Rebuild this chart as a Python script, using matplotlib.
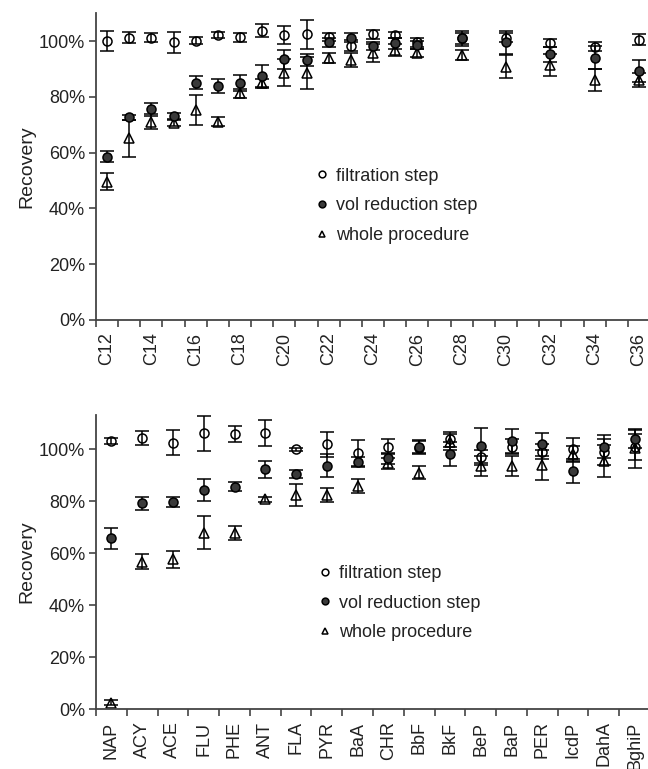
import numpy as np
import matplotlib
matplotlib.use('Agg')
import matplotlib.pyplot as plt
from matplotlib.ticker import FixedLocator, FuncFormatter

plt.rcParams['font.family'] = ['Liberation Sans', 'DejaVu Sans']

# n-alkanes (top panel)
carbons = [12, 13, 14, 15, 16, 17, 18, 19, 20, 21, 22, 23, 24, 25, 26, 28, 30, 32, 34, 36]
alk_filt = [100.0, 101.2, 101.2, 99.5, 100.1, 102.2, 101.3, 103.7, 102.2, 102.5, 101.5, 98.3, 102.4, 102.2, 99.5, 101.0, 101.2, 99.2, 98.0, 100.4]
alk_filt_err = [3.5, 2.0, 1.5, 3.9, 1.3, 1.0, 1.5, 2.4, 3.2, 5.2, 1.5, 2.0, 1.7, 1.2, 1.5, 2.0, 1.5, 1.5, 1.6, 2.0]
alk_vol = [58.5, 72.6, 75.5, 73.1, 85.0, 83.9, 85.0, 87.5, 93.4, 93.2, 99.5, 101.2, 98.3, 99.2, 98.6, 101.0, 99.5, 95.2, 94.0, 89.2]
alk_vol_err = [2.0, 1.0, 2.4, 1.0, 2.3, 2.5, 2.8, 4.0, 3.3, 2.0, 1.5, 1.5, 1.5, 2.0, 1.5, 2.7, 4.0, 2.6, 4.2, 4.0]
alk_whole = [49.6, 65.1, 71.1, 70.7, 75.3, 71.1, 81.2, 84.8, 88.6, 88.6, 93.8, 93.2, 95.6, 96.8, 95.6, 95.0, 90.8, 91.4, 86.0, 86.0]
alk_whole_err = [3.0, 6.6, 2.6, 1.0, 5.3, 1.5, 1.5, 1.5, 4.8, 5.8, 1.8, 2.4, 3.3, 2.0, 1.5, 1.9, 4.2, 3.9, 4.0, 2.5]
alk_ticklabels = ['C%d' % c for c in range(12, 37, 2)]

# PAHs (bottom panel)
pahs = ['NAP', 'ACY', 'ACE', 'FLU', 'PHE', 'ANT', 'FLA', 'PYR', 'BaA', 'CHR',
        'BbF', 'BkF', 'BeP', 'BaP', 'PER', 'IcdP', 'DahA', 'BghiP']
pah_filt = [103.1, 104.3, 102.4, 106.0, 105.8, 106.0, 99.9, 101.8, 98.3, 100.9, 100.5, 103.7, 96.8, 100.9, 99.0, 99.9, 99.0, 100.9]
pah_filt_err = [1.0, 2.6, 4.8, 6.8, 3.2, 5.0, 0.5, 4.8, 5.0, 3.0, 2.5, 3.0, 3.0, 3.0, 3.0, 4.5, 5.0, 5.0]
pah_vol = [65.6, 79.1, 79.5, 84.2, 85.5, 92.2, 90.4, 93.5, 95.1, 96.4, 100.9, 98.1, 101.2, 103.1, 101.8, 91.5, 100.9, 103.7]
pah_vol_err = [4.2, 2.4, 1.9, 4.3, 1.8, 3.2, 1.5, 4.4, 2.0, 2.0, 2.5, 4.5, 6.7, 4.5, 4.5, 4.7, 4.5, 3.5]
pah_whole = [2.4, 56.7, 57.6, 67.8, 67.6, 80.6, 82.3, 82.3, 85.8, 94.5, 90.8, 102.8, 93.5, 93.5, 93.8, 98.1, 95.4, 100.3]
pah_whole_err = [1.0, 2.8, 3.3, 6.4, 2.7, 1.0, 4.4, 2.8, 2.8, 2.0, 2.5, 3.0, 3.8, 4.0, 5.7, 3.0, 6.0, 7.5]

series_names = ['filtration step', 'vol reduction step', 'whole procedure']

W, H = 648, 769
fig = plt.figure(figsize=(W / 100, H / 100), dpi=100)

spine_col = '#444444'
txt_col = '#222222'
fs = 13


def draw(ax, x, filt, ferr, vol, verr, whole, werr):
    kw = dict(ls='none', ecolor='black', elinewidth=1.1, capsize=5, capthick=1.1, ms=6.5, mew=1.1)
    h1 = ax.errorbar(x, filt, yerr=ferr, fmt='o', mfc='none', mec='black', **kw)
    h3 = ax.errorbar(x, whole, yerr=werr, fmt='^', mfc='none', mec='black', **kw)
    h2 = ax.errorbar(x, vol, yerr=verr, fmt='o', mfc='#3a3a3a', mec='black', **kw)
    return h1, h2, h3


def style(ax, ymax):
    for s in ['top', 'right']:
        ax.spines[s].set_visible(False)
    for s in ['left', 'bottom']:
        ax.spines[s].set_color(spine_col)
        ax.spines[s].set_linewidth(1.3)
    ax.set_ylim(0, ymax)
    ax.set_yticks(range(0, 101, 20))
    ax.yaxis.set_major_formatter(FuncFormatter(lambda v, p: '%d%%' % v))
    ax.tick_params(axis='y', direction='out', length=5, width=1.2, color=spine_col,
                   labelsize=fs, labelcolor=txt_col, pad=3)
    ax.tick_params(axis='x', which='major', direction='out', length=5, width=1.2,
                   color=spine_col, labelbottom=False)
    ax.tick_params(axis='x', which='minor', length=0, labelsize=fs, labelcolor=txt_col,
                   labelrotation=90, pad=9)
    ax.set_ylabel('Recovery', fontsize=fs + 1, color=txt_col, labelpad=2)


def legend(ax, handles, x, y):
    leg = ax.legend([h[0] for h in handles], series_names, loc='upper left',
                    bbox_to_anchor=(x, y), frameon=False, fontsize=fs,
                    handlelength=0.6, handletextpad=0.5, labelspacing=0.7,
                    markerscale=0.75, borderaxespad=0)
    for t in leg.get_texts():
        t.set_color(txt_col)


# top panel
px_top = 2.79
ymax_top = 110
ax1 = fig.add_axes([96 / W, (H - 320) / H, 554 / W, ymax_top * px_top / H])
h = draw(ax1, carbons, alk_filt, alk_filt_err, alk_vol, alk_vol_err, alk_whole, alk_whole_err)
ax1.set_xlim(11.5, 36.5)
ax1.xaxis.set_major_locator(FixedLocator(np.arange(11.5, 36.6, 1)))
ax1.xaxis.set_minor_locator(FixedLocator(range(12, 37, 2)))
ax1.set_xticklabels(alk_ticklabels, minor=True)
style(ax1, ymax_top)
legend(ax1, h, 0.385, 0.52)

# bottom panel
px_bot = 2.6
ymax_bot = 113
ax2 = fig.add_axes([96 / W, (H - 709) / H, 554 / W, ymax_bot * px_bot / H])
xp = np.arange(len(pahs))
h = draw(ax2, xp, pah_filt, pah_filt_err, pah_vol, pah_vol_err, pah_whole, pah_whole_err)
ax2.set_xlim(-0.5, len(pahs) - 0.5)
ax2.xaxis.set_major_locator(FixedLocator(np.arange(-0.5, len(pahs), 1)))
ax2.xaxis.set_minor_locator(FixedLocator(xp))
ax2.set_xticklabels(pahs, minor=True)
style(ax2, ymax_bot)
legend(ax2, h, 0.39, 0.515)

fig.savefig('out.png', dpi=100)
